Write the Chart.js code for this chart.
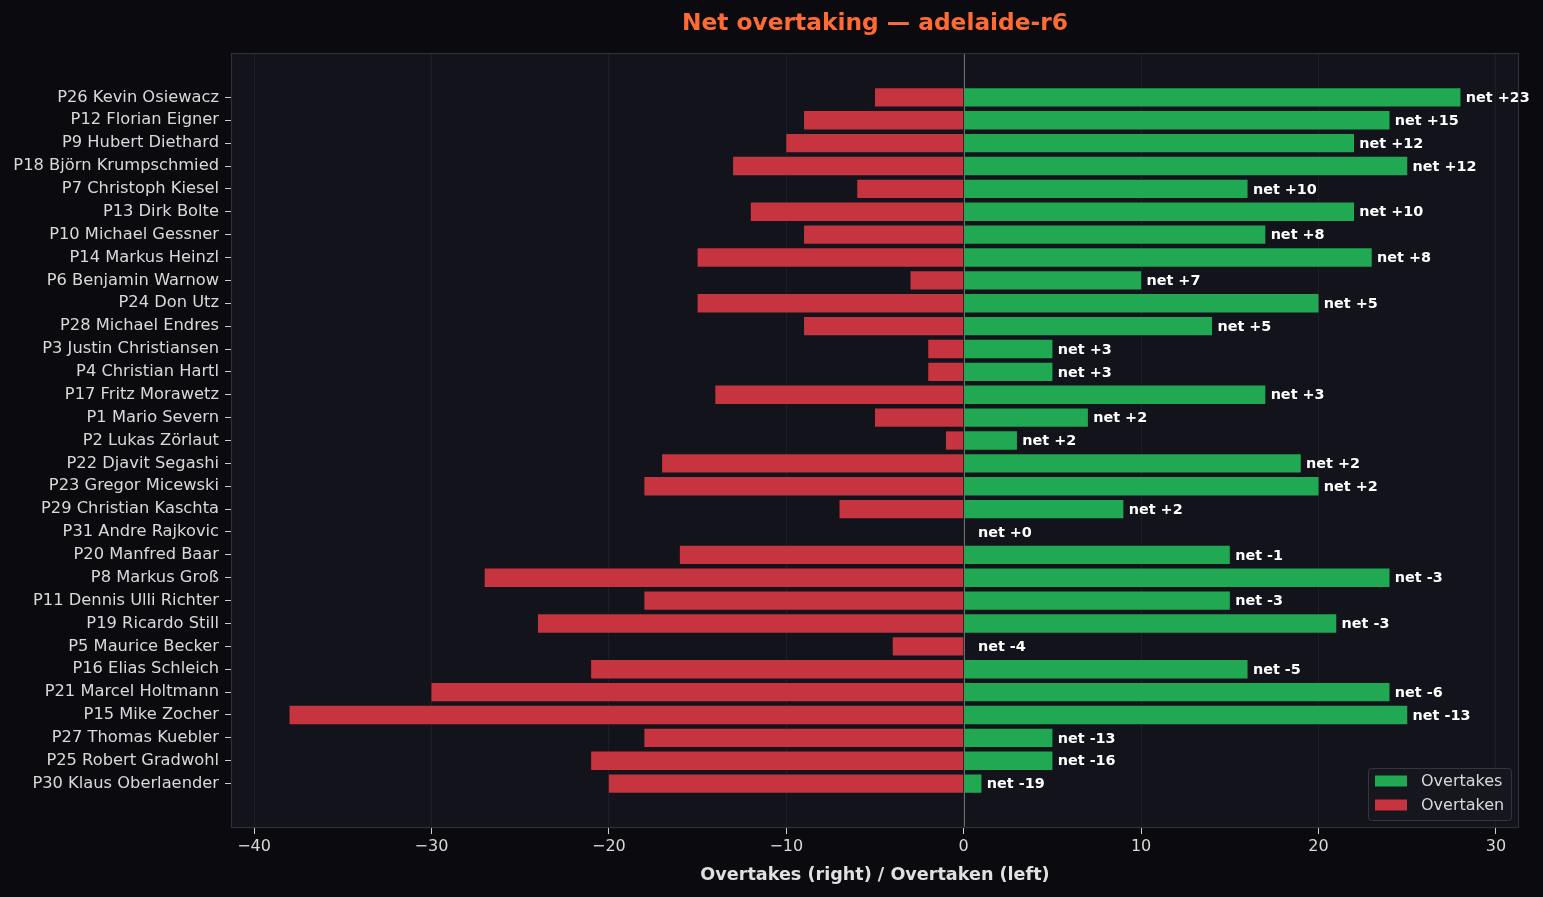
<!DOCTYPE html>
<html>
<head>
<meta charset="utf-8">
<title>Net overtaking — adelaide-r6</title>
<script src="https://cdn.jsdelivr.net/npm/chart.js@4.4.1/dist/chart.umd.min.js"></script>
<style>
  html, body { margin: 0; padding: 0; background: #0b0b0f; }
  canvas { display: block; }
</style>
</head>
<body>
<canvas id="netChart" width="1543" height="897"></canvas>
<script>
const drivers = [
  'P26 Kevin Osiewacz', 'P12 Florian Eigner', 'P9 Hubert Diethard', 'P18 Björn Krumpschmied',
  'P7 Christoph Kiesel', 'P13 Dirk Bolte', 'P10 Michael Gessner', 'P14 Markus Heinzl',
  'P6 Benjamin Warnow', 'P24 Don Utz', 'P28 Michael Endres', 'P3 Justin Christiansen',
  'P4 Christian Hartl', 'P17 Fritz Morawetz', 'P1 Mario Severn', 'P2 Lukas Zörlaut',
  'P22 Djavit Segashi', 'P23 Gregor Micewski', 'P29 Christian Kaschta', 'P31 Andre Rajkovic',
  'P20 Manfred Baar', 'P8 Markus Groß', 'P11 Dennis Ulli Richter', 'P19 Ricardo Still',
  'P5 Maurice Becker', 'P16 Elias Schleich', 'P21 Marcel Holtmann', 'P15 Mike Zocher',
  'P27 Thomas Kuebler', 'P25 Robert Gradwohl', 'P30 Klaus Oberlaender'
];
const overtakes = [28, 24, 22, 25, 16, 22, 17, 23, 10, 20, 14, 5, 5, 17, 7, 3, 19, 20, 9, 0, 15, 24, 15, 21, 0, 16, 24, 25, 5, 5, 1];
const overtaken = [5, 9, 10, 13, 6, 12, 9, 15, 3, 15, 9, 2, 2, 14, 5, 1, 17, 18, 7, 0, 16, 27, 18, 24, 4, 21, 30, 38, 18, 21, 20];
const net = [23, 15, 12, 12, 10, 10, 8, 8, 7, 5, 5, 3, 3, 3, 2, 2, 2, 2, 2, 0, -1, -3, -3, -3, -4, -5, -6, -13, -13, -16, -19];
const xTicks = [-40, -30, -20, -10, 0, 10, 20, 30];

const GREEN = '#21a853';
const RED = '#c5343f';
const TEXT = '#d9d9d9';

Chart.defaults.font.family = 'DejaVu Sans';
Chart.defaults.color = TEXT;

// backgrounds, zero line, net labels, legend, frame, title
const decor = {
  id: 'decor',
  beforeDraw(chart) {
    const { ctx, chartArea: a } = chart;
    ctx.save();
    ctx.fillStyle = '#0b0b0f';
    ctx.fillRect(0, 0, chart.width, chart.height);
    ctx.fillStyle = '#12131b';
    ctx.fillRect(a.left, a.top, a.right - a.left, a.bottom - a.top);
    ctx.restore();
  },
  beforeDatasetsDraw(chart) {
    const { ctx, chartArea: a, scales } = chart;
    const x0 = Math.round(scales.x.getPixelForValue(0)) + 0.5;
    ctx.save();
    ctx.strokeStyle = '#6a6a70';
    ctx.lineWidth = 1;
    ctx.beginPath();
    ctx.moveTo(x0, a.top);
    ctx.lineTo(x0, a.bottom);
    ctx.stroke();
    ctx.restore();
  },
  afterDatasetsDraw(chart) {
    const { ctx, chartArea: a, scales } = chart;
    ctx.save();
    // net labels
    ctx.font = 'bold 14.4px "DejaVu Sans"';
    ctx.fillStyle = '#ffffff';
    ctx.textAlign = 'left';
    ctx.textBaseline = 'middle';
    net.forEach((n, i) => {
      const x = scales.x.getPixelForValue(Math.max(overtakes[i], 0.5) + 0.3);
      const y = scales.y.getPixelForValue(i);
      ctx.fillText('net ' + (n >= 0 ? '+' : '') + n, x, y + 1);
    });

    // frame
    ctx.strokeStyle = '#2e2f38';
    ctx.lineWidth = 1.2;
    ctx.strokeRect(a.left + 0.5, a.top + 0.5, a.right - a.left - 1, a.bottom - a.top - 1);

    // legend (lower right, inside plot)
    const lw = 143, lh = 52;
    const lx = a.right - 8 - lw, ly = a.bottom - 8 - lh;
    ctx.fillStyle = 'rgba(22,23,31,0.9)';
    ctx.strokeStyle = '#34353e';
    ctx.lineWidth = 1;
    ctx.beginPath();
    ctx.roundRect(lx + 0.5, ly + 0.5, lw, lh, 3);
    ctx.fill();
    ctx.stroke();
    ctx.font = '16px "DejaVu Sans"';
    ctx.textBaseline = 'middle';
    chart.data.datasets.forEach((ds, k) => {
      const cy = ly + 13 + k * 24;
      ctx.fillStyle = ds.backgroundColor;
      ctx.fillRect(lx + 7, cy - 5.5, 32, 11);
      ctx.fillStyle = TEXT;
      ctx.fillText(ds.label, lx + 53, cy + 1);
    });

    // title
    ctx.font = 'bold 23.3px "DejaVu Sans"';
    ctx.fillStyle = '#ff6b35';
    ctx.textAlign = 'center';
    ctx.fillText('Net overtaking — adelaide-r6', (a.left + a.right) / 2, 24);
    ctx.restore();
  }
};

new Chart(document.getElementById('netChart'), {
  type: 'bar',
  data: {
    datasets: [
      {
        label: 'Overtakes',
        data: overtakes.map((v, i) => ({ x: v, y: i })),
        backgroundColor: GREEN,
        stack: 'all'
      },
      {
        label: 'Overtaken',
        data: overtaken.map((v, i) => ({ x: -v, y: i })),
        backgroundColor: RED,
        stack: 'all'
      }
    ]
  },
  options: {
    indexAxis: 'y',
    responsive: false,
    animation: false,
    devicePixelRatio: 1,
    barPercentage: 0.8,
    categoryPercentage: 1,
    layout: { padding: { top: 53, right: 24, bottom: 0, left: 0 } },
    plugins: {
      legend: { display: false },
      title: { display: false },
      tooltip: { enabled: false }
    },
    scales: {
      x: {
        type: 'linear',
        stacked: true,
        min: -41.3,
        max: 31.3,
        afterBuildTicks: (scale) => { scale.ticks = xTicks.map(v => ({ value: v })); },
        afterFit: (scale) => { scale.height = 69; },
        ticks: {
          color: TEXT,
          font: { size: 16 },
          padding: 3,
          maxRotation: 0,
          callback: (v) => (v < 0 ? '\u2212' + Math.abs(v) : String(v))
        },
        grid: {
          color: 'rgba(255,255,255,0.05)',
          drawTicks: true,
          tickLength: 6,
          tickColor: '#cfcfcf'
        },
        border: { display: false },
        title: {
          display: true,
          text: 'Overtakes (right) / Overtaken (left)',
          color: '#e0e0e0',
          font: { size: 17.6, weight: 'bold' },
          padding: { top: 0, bottom: 11 }
        }
      },
      y: {
        type: 'linear',
        stacked: true,
        reverse: true,
        offset: false,
        min: -1.94,
        max: 31.94,
        afterBuildTicks: (scale) => { scale.ticks = drivers.map((_, i) => ({ value: i })); },
        afterFit: (scale) => { scale.width = 231; },
        ticks: {
          color: TEXT,
          font: { size: 16.3 },
          padding: 6,
          autoSkip: false,
          callback: (v) => drivers[v]
        },
        grid: {
          offset: false,
          drawOnChartArea: false,
          drawTicks: true,
          tickLength: 6,
          tickColor: '#cfcfcf'
        },
        border: { display: false }
      }
    }
  },
  plugins: [decor]
});
</script>
</body>
</html>
